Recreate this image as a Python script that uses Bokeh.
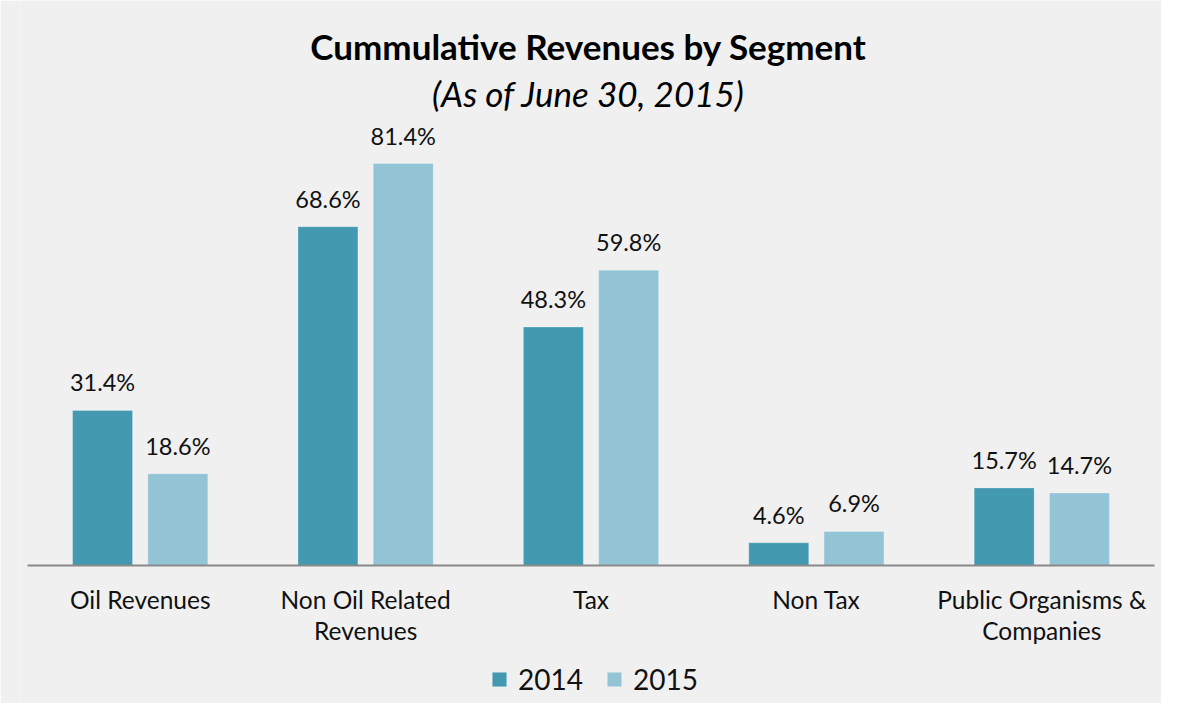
from bokeh.plotting import figure
from bokeh.models import ColumnDataSource, FactorRange, Range1d, Label
from bokeh.transform import dodge
from bokeh.core.properties import value
from bokeh.embed import file_html
from bokeh.resources import INLINE

# ---- data ----
categories = ["Oil Revenues", "Non Oil Related\nRevenues", "Tax", "Non Tax",
              "Public Organisms &\nCompanies"]
values_2014 = [31.4, 68.6, 48.3, 4.6, 15.7]
values_2015 = [18.6, 81.4, 59.8, 6.9, 14.7]
series_names = ["2014", "2015"]
title_text = "Cummulative Revenues by Segment"
subtitle_text = "(As of June 30, 2015)"

# ---- style ----
BG = "#f0f0f0"
C14 = "#4399b0"
C15 = "#93c4d6"
TXT = "#111111"
FONT = "Lato"

W, H = 1161, 703
PX_PER_UNIT = 402 / 81.4
BASE_FROM_BOTTOM = 138

p = figure(width=W, height=H,
           x_range=FactorRange(factors=categories, range_padding=0.012422),
           y_range=Range1d(-BASE_FROM_BOTTOM / PX_PER_UNIT, (H - BASE_FROM_BOTTOM) / PX_PER_UNIT),
           output_backend="svg", toolbar_location=None,
           min_border_left=20, min_border_right=0, min_border_top=0, min_border_bottom=0)
p.background_fill_color = BG
p.border_fill_color = BG
p.outline_line_color = None
p.xaxis.visible = False
p.yaxis.visible = False
p.xgrid.visible = False
p.ygrid.visible = False

src = ColumnDataSource(dict(
    cat=categories,
    v14=values_2014,
    v15=values_2015,
    l14=[f"{v:.1f}%" for v in values_2014],
    l15=[f"{v:.1f}%" for v in values_2015],
))

OFF = 0.167
BW = 0.266
p.vbar(x=dodge("cat", -OFF, range=p.x_range), top="v14", width=BW, source=src,
       fill_color=C14, line_color="#ffffff", line_alpha=0.25, line_width=1,
       legend_label=series_names[0])
p.vbar(x=dodge("cat", OFF, range=p.x_range), top="v15", width=BW, source=src,
       fill_color=C15, line_color="#ffffff", line_alpha=0.25, line_width=1,
       legend_label=series_names[1])

# baseline
bsrc = ColumnDataSource(dict(x0=[categories[0]], x1=[categories[-1]], y=[0]))
p.segment(x0=dodge("x0", -0.5, range=p.x_range), y0="y",
          x1=dodge("x1", 0.5, range=p.x_range), y1="y",
          source=bsrc, line_color="#898989", line_width=2)

# value labels
for xo, col, vcol in ((-OFF, "l14", "v14"), (OFF, "l15", "v15")):
    p.text(x=dodge("cat", xo, range=p.x_range), y=vcol,
           text=col, source=src, text_align="center", text_baseline="bottom",
           y_offset=-14, text_font=value(FONT), text_font_size="23.5px", text_color=TXT)

# category labels
p.text(x="cat", y=0, text="cat", source=src, text_align="center", text_baseline="top",
       y_offset=19, text_font=value(FONT), text_font_size="24.5px", text_color=TXT,
       text_line_height=1.09)

# titles
p.add_layout(Label(x=568, y=658, x_units="screen", y_units="screen", text=title_text,
                   text_align="center", text_baseline="middle", text_font=FONT,
                   text_font_size="35px", text_font_style="bold", text_color="#000000"))
p.add_layout(Label(x=568, y=611, x_units="screen", y_units="screen", text=subtitle_text,
                   text_align="center", text_baseline="middle", text_font=FONT,
                   text_font_size="35px", text_font_style="italic", text_color="#000000"))

# legend
lg = p.legend[0]
lg.orientation = "horizontal"
lg.location = (470, 7)
lg.padding = 0
lg.margin = 0
lg.spacing = 22
lg.label_standoff = 10
lg.glyph_width = 18
lg.glyph_height = 18
lg.label_text_font = FONT
lg.label_text_font_size = "28px"
lg.label_text_color = TXT
lg.background_fill_alpha = 0
lg.border_line_alpha = 0

open("out.html", "w").write(file_html(p, INLINE))
